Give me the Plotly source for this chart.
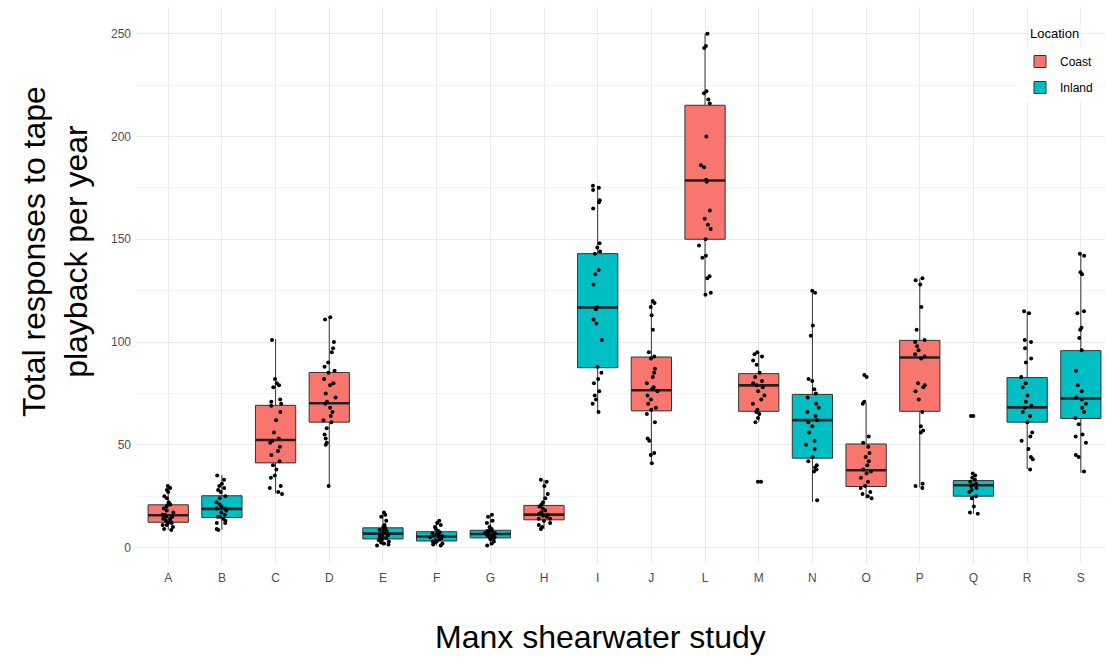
import plotly.graph_objects as go

categories = ["A", "B", "C", "D", "E", "F", "G", "H", "I", "J", "L", "M", "N", "O", "P", "Q", "R", "S"]
location = ["Coast", "Inland", "Coast", "Coast", "Inland", "Inland", "Inland", "Coast", "Inland",
            "Coast", "Coast", "Coast", "Inland", "Coast", "Coast", "Inland", "Inland", "Inland"]

q1 = [12.3, 14.6, 41.2, 61.0, 4.2, 3.2, 4.7, 13.5, 87.5, 66.5, 150.0, 66.3, 43.5, 29.7, 66.3, 25.0, 61.0, 62.8]
median = [15.7, 18.8, 52.3, 70.2, 6.8, 5.4, 6.6, 16.0, 116.8, 76.5, 178.6, 78.9, 62.0, 37.6, 92.5, 30.3, 68.2, 72.6]
q3 = [20.8, 25.2, 69.2, 85.2, 9.6, 7.7, 8.4, 20.5, 143.0, 92.7, 215.2, 84.6, 74.5, 50.4, 100.8, 32.6, 82.7, 95.8]
lowerfence = [8.6, 8.6, 26.3, 30.3, 1.0, 1.0, 1.0, 9.0, 66.3, 41.2, 122.8, 61.0, 22.2, 23.9, 29.3, 16.4, 38.2, 36.3]
upperfence = [30.0, 35.4, 101.5, 112.0, 17.0, 13.0, 16.0, 33.0, 176.0, 119.5, 250.0, 95.0, 124.8, 70.4, 130.8, 36.3, 114.8, 143.0]

pts_A = [30, 29, 28, 27, 25, 24, 22, 21, 21, 20, 19, 18, 17, 16, 16, 15, 15, 14, 14, 13, 13, 12, 12, 11, 11, 10, 9, 8.6]
pts_B = [35, 33, 31, 30, 29, 28, 27, 25, 24, 22, 21, 20, 19, 19, 18, 17, 16, 15, 15, 14, 13, 12, 12, 9, 8.6]
pts_C = [101, 82, 80, 79, 78, 72, 71, 70, 69, 66, 62, 56, 53, 52, 51, 49, 47, 45, 42, 40, 38, 35, 34, 30, 29, 27, 26]
pts_D = [112, 111, 100, 97, 95, 90, 88, 86, 85, 82, 80, 79, 75, 73, 71, 70, 68, 66, 64, 62, 61, 58, 55, 53, 51, 50, 30]
pts_E = [17, 16, 15, 13, 11, 10, 9.5, 9, 8.5, 8, 7.5, 7, 6.5, 6, 6, 5.5, 5, 4.5, 4, 4, 3.5, 3, 2.5, 2, 1.5, 1]
pts_F = [13, 12, 11, 10, 9, 8, 7.5, 7, 6.5, 6, 6, 5.5, 5, 5, 4.5, 4, 3.5, 3, 3, 2.5, 2, 1.5, 1]
pts_G = [16, 15, 13, 12, 10, 9, 8.5, 8, 8, 7.5, 7, 7, 6.5, 6, 6, 5.5, 5, 5, 4.5, 4, 3, 2, 1]
pts_H = [33, 32, 30, 26, 24, 22, 21, 20, 19, 18, 17, 16.5, 16, 15.5, 15, 14, 14, 13, 12, 11, 10, 9]
pts_I = [176, 175, 174, 169, 168, 165, 148, 146, 144, 143, 135, 133, 128, 117, 116, 111, 109, 101, 88, 85, 82, 80, 76, 74, 72, 70, 66]
pts_J = [120, 119, 117, 113, 106, 95, 93, 92, 87, 85, 83, 80, 78, 77, 76, 74, 72, 70, 68, 67, 65, 61, 53, 52, 46, 45, 41]
pts_L = [250, 244, 243, 222, 221, 218, 216, 200, 186, 185, 179, 178, 164, 160, 157, 155, 150, 147, 142, 141, 132, 131, 124, 123]
pts_M = [95, 94, 93, 91, 89, 85, 83, 81, 80, 79, 78, 76, 74, 72, 70, 67, 66, 65, 63, 61, 32, 32]
pts_N = [125, 124, 108, 103, 82, 81, 77, 75, 73, 70, 68, 66, 64, 62, 61, 59, 56, 52, 50, 48, 44, 42, 40, 39, 38, 37, 23]
pts_O = [84, 83, 71, 70, 54, 51, 49, 46, 44, 42, 40, 38, 37, 36, 34, 32, 30, 29, 27, 26, 25, 24]
pts_P = [131, 130, 128, 117, 106, 101, 100, 98, 96, 94, 93, 92, 80, 79, 78, 76, 72, 66, 59, 57, 56, 31, 30, 29]
pts_Q = [64, 64, 36, 35, 34, 33, 32, 31, 30.5, 30, 29, 28, 27, 25, 24, 20, 17, 16.5]
pts_R = [115, 114, 101, 100, 97, 92, 90, 83, 80, 78, 74, 71, 69, 68, 66, 64, 61, 56, 54, 52, 48, 44, 43, 38]
pts_S = [143, 142, 134, 133, 115, 114, 107, 106, 102, 96, 86, 79, 76, 73, 72, 70, 68, 66, 63, 60, 55, 54, 51, 45, 44, 37]

points = {"A": pts_A, "B": pts_B, "C": pts_C, "D": pts_D, "E": pts_E, "F": pts_F, "G": pts_G,
          "H": pts_H, "I": pts_I, "J": pts_J, "L": pts_L, "M": pts_M, "N": pts_N, "O": pts_O,
          "P": pts_P, "Q": pts_Q, "R": pts_R, "S": pts_S}

colors = {"Coast": "#F8766D", "Inland": "#00BFC4"}
BW = 0.75

fig = go.Figure()

# Boxes (precomputed stats)
for loc in ["Coast", "Inland"]:
    idx = [i for i, l in enumerate(location) if l == loc]
    fig.add_trace(go.Box(
        name=loc, legendgroup=loc,
        x=[categories[i] for i in idx],
        q1=[q1[i] for i in idx], median=[median[i] for i in idx], q3=[q3[i] for i in idx],
        lowerfence=[lowerfence[i] for i in idx], upperfence=[upperfence[i] for i in idx],
        fillcolor=colors[loc], line=dict(color="#333333", width=1),
        whiskerwidth=0, width=BW, boxpoints=False, hoverinfo="skip",
    ))

# Thicker median lines (ggplot fatten)
fig.add_trace(go.Box(
    x=categories, q1=median, median=median, q3=median, lowerfence=median, upperfence=median,
    fillcolor="rgba(0,0,0,0)", line=dict(color="#222222", width=2.6),
    whiskerwidth=0, width=BW, boxpoints=False, showlegend=False, hoverinfo="skip",
))

# Jittered raw points
px, py = [], []
for c in categories:
    px += [c] * len(points[c])
    py += points[c]
fig.add_trace(go.Box(
    x=px, y=py, boxpoints="all", jitter=0.34, pointpos=0, width=BW,
    fillcolor="rgba(0,0,0,0)", line=dict(color="rgba(0,0,0,0)", width=0),
    whiskerwidth=0, marker=dict(color="black", size=4), showlegend=False, hoverinfo="skip",
))

L, T, B = 136, 7, 93
H = 657 - T - B
W = 1105 - L
BOT = 657 - B


def px_x(p):
    return (p - L) / W


def px_y(p):
    return (BOT - p) / H


fig.update_layout(
    width=1105, height=657,
    margin=dict(l=L, r=0, t=T, b=B),
    paper_bgcolor="white", plot_bgcolor="white",
    boxmode="overlay",
    font=dict(family="Liberation Sans, Arial, sans-serif", color="black"),
    xaxis=dict(
        type="category", categoryorder="array", categoryarray=categories,
        range=[-0.6, 17.45], showgrid=True, gridcolor="#EBEBEB", gridwidth=1,
        zeroline=False, showline=False, ticks="",
        tickfont=dict(size=12, color="#4D4D4D"), ticklabelstandoff=5,
    ),
    yaxis=dict(
        range=[-8, 263], tickvals=[0, 50, 100, 150, 200, 250],
        showgrid=True, gridcolor="#EBEBEB", gridwidth=1, zeroline=False, showline=False,
        ticks="", tickfont=dict(size=12, color="#4D4D4D"), ticklabelstandoff=4,
        minor=dict(tickvals=[25, 75, 125, 175, 225], showgrid=True, gridcolor="#F4F4F4", gridwidth=0.6),
    ),
    legend=dict(
        x=px_x(1020), y=px_y(47), xanchor="left", yanchor="top",
        bgcolor="white", font=dict(size=12), tracegroupgap=7, traceorder="grouped",
    ),
    annotations=[
        dict(text="Location", xref="paper", yref="paper",
             x=px_x(1028), y=px_y(33), xanchor="left", yanchor="middle",
             showarrow=False, font=dict(size=13, color="black"), bgcolor="white"),
        dict(text="Manx shearwater study", xref="paper", yref="paper",
             x=px_x(600), y=px_y(637), xanchor="center", yanchor="middle",
             showarrow=False, font=dict(size=32, color="black")),
        dict(text="Total responses to tape<br>playback per year", xref="paper", yref="paper",
             x=px_x(55), y=px_y(252), xanchor="center", yanchor="middle",
             textangle=-90, showarrow=False, font=dict(size=32, color="black")),
    ],
)

fig.write_html("out.html")
